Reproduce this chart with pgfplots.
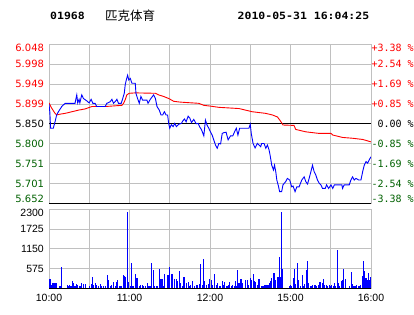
\documentclass[border=0pt]{standalone}
\usepackage{fontspec}
\usepackage{pgfplots}
\pgfplotsset{compat=1.18}
\setmainfont{DejaVu Sans}
\newfontfamily\labf{DejaVu Sans}
\newfontfamily\monof{DejaVu Sans Mono}
\newfontfamily\hdrf{DejaVu Sans Mono}[FakeStretch=1.15]
\newfontfamily\cjk{Noto Sans CJK SC}
\newfontfamily\arialf{Liberation Sans}
\definecolor{dgreen}{RGB}{0,96,0}
\definecolor{gridc}{RGB}{192,192,192}
\begin{document}
\begin{tikzpicture}
\path[use as bounding box] (0,0) rectangle (414pt,314pt);
\node[anchor=west,inner sep=0pt] at (50pt,298.3pt) {\hdrf\bfseries\fontsize{10}{10}\selectfont 01968};
\node[anchor=west,inner sep=0pt] at (105pt,298.7pt) {\cjk\fontsize{12.5}{12.5}\selectfont 匹克体育};
\node[anchor=west,inner sep=0pt] at (237.5pt,298.3pt) {\hdrf\bfseries\fontsize{10}{10}\selectfont 2010-05-31 16:04:25};

% price axis
\begin{axis}[
  at={(49pt,110.7pt)}, anchor=south west,
  scale only axis, width=322pt, height=159pt,
  xmin=0, xmax=240, ymin=5.652, ymax=6.048,
  xtick={0,30,...,240}, xticklabel=\empty,
  ytick={5.652,5.7015,5.751,5.8005,5.85,5.8995,5.949,5.9985,6.048},
  yticklabels={\raisebox{4pt}[\height][\depth]{\textcolor{dgreen}{5.652}},\textcolor{dgreen}{5.701},\textcolor{dgreen}{5.751},\textcolor{dgreen}{5.800},5.850,\textcolor{red}{5.899},\textcolor{red}{5.949},\textcolor{red}{5.998},\raisebox{-3.4pt}[\height][\depth]{\textcolor{red}{6.048}}},
  grid=major, major grid style={gridc, line width=0.8pt},
  axis line style={gridc, line width=0.8pt},
  major tick length=0pt,
  yticklabel style={font=\labf\fontsize{10}{12}\selectfont, inner sep=0pt, xshift=-4.8pt},
]
\draw[black, line width=0.9pt] (axis cs:0,5.85) -- (axis cs:240,5.85);
\addplot[red, line width=0.9pt, mark=none] coordinates {
(0,5.902)(2,5.889)(4.5,5.876)(5.7,5.872)(8.2,5.874)(12,5.876)(17,5.880)(21.9,5.884)(26.9,5.887)(31.9,5.893)(41.9,5.893)(54.3,5.896)(55.6,5.901)(56.8,5.910)(58,5.922)(59.8,5.926)(64.3,5.927)(79.3,5.926)(81.7,5.922)(85.5,5.918)(89.2,5.913)(93,5.906)(97.9,5.904)(111.6,5.901)(115.4,5.896)(120.4,5.894)(126.6,5.891)(141.6,5.888)(151.6,5.880)(161.5,5.876)(166.5,5.872)(170.3,5.867)(172.7,5.856)(174.4,5.847)(182.6,5.846)(183.9,5.836)(191.4,5.830)(201.4,5.826)(210.2,5.826)(211.5,5.822)(218.8,5.816)(226.3,5.814)(233.8,5.811)(240,5.805)
};
\addplot[blue, line width=0.9pt, mark=none] coordinates {
(0,5.899)(0.6,5.880)(1.2,5.839)(3.2,5.839)(4.5,5.855)(5.7,5.872)(7,5.880)(9.5,5.893)(12,5.901)(19.4,5.901)(20,5.911)(20.7,5.922)(21.4,5.902)(22.4,5.911)(23,5.902)(24.4,5.922)(25.7,5.913)(28.2,5.907)(29.9,5.902)(31.4,5.911)(32.7,5.901)(34.4,5.901)(35.6,5.893)(41.9,5.893)(43.1,5.901)(45.6,5.905)(46.9,5.911)(48.1,5.901)(49.3,5.905)(50.6,5.911)(51.8,5.901)(53.8,5.901)(54.6,5.909)(56.1,5.926)(56.8,5.947)(57.6,5.959)(58.6,5.971)(59.5,5.959)(60.6,5.963)(61.8,5.951)(64.3,5.951)(64.8,5.926)(66,5.913)(67.3,5.901)(68.5,5.918)(69.8,5.909)(71,5.909)(73,5.909)(73.8,5.901)(75.5,5.911)(78,5.922)(79.3,5.913)(80.5,5.893)(82.2,5.884)(83.5,5.872)(84.7,5.872)(86,5.880)(87.2,5.872)(88.4,5.872)(89.2,5.851)(90,5.839)(91.2,5.848)(92.5,5.843)(93.7,5.851)(94.9,5.843)(96.7,5.849)(98.7,5.851)(99.7,5.857)(101,5.862)(102.2,5.855)(103.7,5.869)(105,5.864)(106.2,5.853)(107.9,5.861)(109.7,5.850)(111.2,5.851)(112.2,5.843)(113.7,5.835)(115.4,5.820)(116.6,5.859)(117.9,5.846)(119.1,5.839)(120.3,5.830)(121.6,5.822)(122.8,5.810)(124.1,5.797)(125.4,5.789)(126.6,5.801)(127.9,5.800)(129.1,5.826)(130.3,5.828)(132,5.829)(133.5,5.810)(135.3,5.820)(137,5.820)(138.3,5.830)(139.6,5.839)(140.8,5.822)(142.1,5.839)(144,5.839)(149,5.839)(150,5.849)(150.8,5.825)(152.1,5.801)(153.6,5.790)(155.3,5.801)(157.8,5.793)(158.5,5.801)(160.3,5.801)(161.6,5.789)(162.8,5.797)(164,5.785)(164.8,5.772)(166,5.747)(167.3,5.735)(168.1,5.747)(169,5.731)(169.8,5.710)(171,5.695)(171.9,5.681)(173.4,5.681)(174.4,5.698)(176.4,5.706)(177.7,5.714)(179.4,5.710)(180.9,5.693)(181.9,5.695)(183.4,5.681)(184.7,5.693)(186.4,5.693)(188.4,5.710)(190.2,5.718)(191.4,5.706)(192.7,5.700)(193.9,5.714)(195.2,5.731)(196.4,5.747)(197.6,5.731)(198.9,5.722)(200.1,5.710)(201.4,5.702)(202.6,5.698)(203.9,5.689)(205.9,5.689)(206.9,5.698)(208.4,5.689)(210.2,5.698)(211.5,5.689)(212.7,5.698)(218.3,5.698)(218.8,5.689)(220,5.698)(223.8,5.698)(225,5.710)(226.3,5.718)(227.5,5.710)(228.8,5.714)(230.8,5.710)(232.5,5.710)(233.8,5.731)(235,5.747)(236.3,5.756)(237.5,5.752)(238.8,5.761)(240,5.768)
};
\draw[black, line width=1.6pt] (rel axis cs:0,0) -- (rel axis cs:1,0);
\end{axis}

% right percent axis
\begin{axis}[
  at={(49pt,110.7pt)}, anchor=south west,
  scale only axis, width=322pt, height=159pt,
  xmin=0, xmax=240, ymin=5.652, ymax=6.048,
  axis x line=none, axis y line*=right,
  ytick={5.652,5.7015,5.751,5.8005,5.85,5.8995,5.949,5.9985,6.048},
  yticklabels={\raisebox{4pt}[\height][\depth]{\textcolor{dgreen}{-3.38 \%}},\textcolor{dgreen}{-2.54 \%},\textcolor{dgreen}{-1.69 \%},\textcolor{dgreen}{-0.85 \%},{\ 0.00 \%},\textcolor{red}{+0.85 \%},\textcolor{red}{+1.69 \%},\textcolor{red}{+2.54 \%},\raisebox{-3.4pt}[\height][\depth]{\textcolor{red}{+3.38 \%}}},
  axis line style={gridc, line width=0.8pt},
  major tick length=0pt,
  yticklabel style={font=\monof\fontsize{10}{12}\selectfont, inner sep=0pt, xshift=0.3pt},
]
\end{axis}

% volume axis
\begin{axis}[
  at={(49pt,25.7pt)}, anchor=south west,
  scale only axis, width=322pt, height=79pt,
  xmin=0, xmax=240, ymin=0, ymax=2300,
  xtick={0,30,...,240}, xticklabels={10:00,,11:00,,12:00,,15:00,,16:00},
  ytick={0,575,1150,1725,2300},
  yticklabels={,575,1150,1725,\raisebox{-4pt}[\height][\depth]{2300}},
  grid=major, major grid style={gridc, line width=0.8pt},
  axis line style={gridc, line width=0.8pt},
  major tick length=0pt,
  yticklabel style={font=\arialf\fontsize{10.5}{12}\selectfont, inner sep=0pt, xshift=-5pt},
  xticklabel style={font=\arialf\fontsize{10.5}{12}\selectfont, inner sep=0pt, yshift=-5.5pt},
]
\addplot[ycomb, blue, line width=1.1pt, mark=none] coordinates {
(0.75,272)(1.5,97)(2.5,145)(3.0,145)(4.5,155)(5.5,155)(8.2,68)(9.2,630)(13.5,97)(14.5,78)(15.5,97)(16.4,68)(17.4,213)(18.2,155)(19.4,68)(20.2,116)(21.2,97)(22.7,68)(23.4,78)(24.4,145)(25.7,126)(26.9,126)(30.2,68)(31.4,126)(32.4,340)(33.4,97)(34.4,155)(35.6,97)(36.9,68)(38.1,136)(39.4,68)(40.6,68)(41.9,68)(43.6,388)(44.4,243)(45.6,68)(46.8,97)(47.8,175)(49.3,68)(50.1,175)(51.1,243)(52.3,68)(53.1,68)(54.3,68)(55.6,388)(56.3,359)(57.1,340)(58.6,2220)(59.3,175)(60.6,68)(61.6,727)(62.3,68)(63.3,68)(64.3,417)(65.0,310)(66.0,310)(67.5,68)(68.5,97)(69.5,97)(70.5,68)(71.8,78)(73.5,145)(74.5,68)(75.5,68)(76.5,727)(78.0,533)(78.7,68)(80.0,68)(81.0,68)(82.5,563)(83.5,272)(84.2,272)(85.5,68)(86.2,417)(88.0,359)(88.7,388)(89.7,630)(91.2,417)(92.2,417)(93.4,272)(94.7,272)(95.4,213)(97.2,504)(98.2,145)(99.2,68)(100.4,340)(101.2,340)(102.7,145)(103.7,175)(104.7,68)(105.7,97)(106.7,213)(108.2,68)(109.6,97)(110.6,97)(112.1,126)(113.1,708)(114.1,97)(115.1,854)(116.1,213)(117.6,97)(118.6,126)(119.6,272)
(121.1,243)(122.1,97)(123.4,417)(124.9,97)(125.9,145)(127.1,68)(128.1,68)(129.1,213)(130.1,97)(131.1,175)(132.1,68)(133.1,68)(134.1,97)(134.8,175)(136.1,68)(137.1,97)(138.1,68)(139.1,213)(139.8,68)(140.8,533)(141.6,145)(143.1,272)(144.0,145)(146.5,243)(147.8,243)(149.0,97)(150.0,291)(151.0,243)(152.3,417)(153.3,213)(154.0,175)(155.3,97)(156.0,272)(157.0,272)(158.3,68)(159.5,68)(161.0,97)(162.2,97)(163.2,97)(164.2,145)(165.2,213)(166.0,310)(167.7,446)(168.7,243)(170.0,272)(170.7,340)(171.7,922)(172.5,340)(173.5,2220)(174.2,563)(179.0,68)(180.0,97)(180.9,68)(181.9,291)(182.9,563)(183.9,126)(184.9,727)(185.9,243)(187.7,68)(188.7,388)(189.7,68)(190.6,126)(191.6,533)(192.4,795)(193.6,145)(194.6,68)(195.6,68)(196.6,97)(197.6,97)(198.6,97)(199.6,68)(200.6,97)(201.6,175)(202.6,175)(203.6,145)(204.6,272)(205.6,97)(206.6,97)(207.8,68)(208.8,97)(209.8,68)(210.8,97)(211.8,68)(212.8,145)(213.8,68)(214.8,1115)(215.8,145)(216.8,68)(217.8,213)(218.8,243)(219.6,563)(220.8,272)(223.8,68)(225.3,475)(226.3,126)(227.3,68)(228.3,68)(229.5,97)(230.5,68)(231.5,68)(232.5,97)(233.5,359)(234.3,795)(235.3,504)(236.3,291)(237.3,243)(238.2,446)(239.2,243)(239.8,340)
};
\draw[black, line width=1pt] (rel axis cs:0,0) -- (rel axis cs:1,0);
\end{axis}
\end{tikzpicture}
\end{document}
